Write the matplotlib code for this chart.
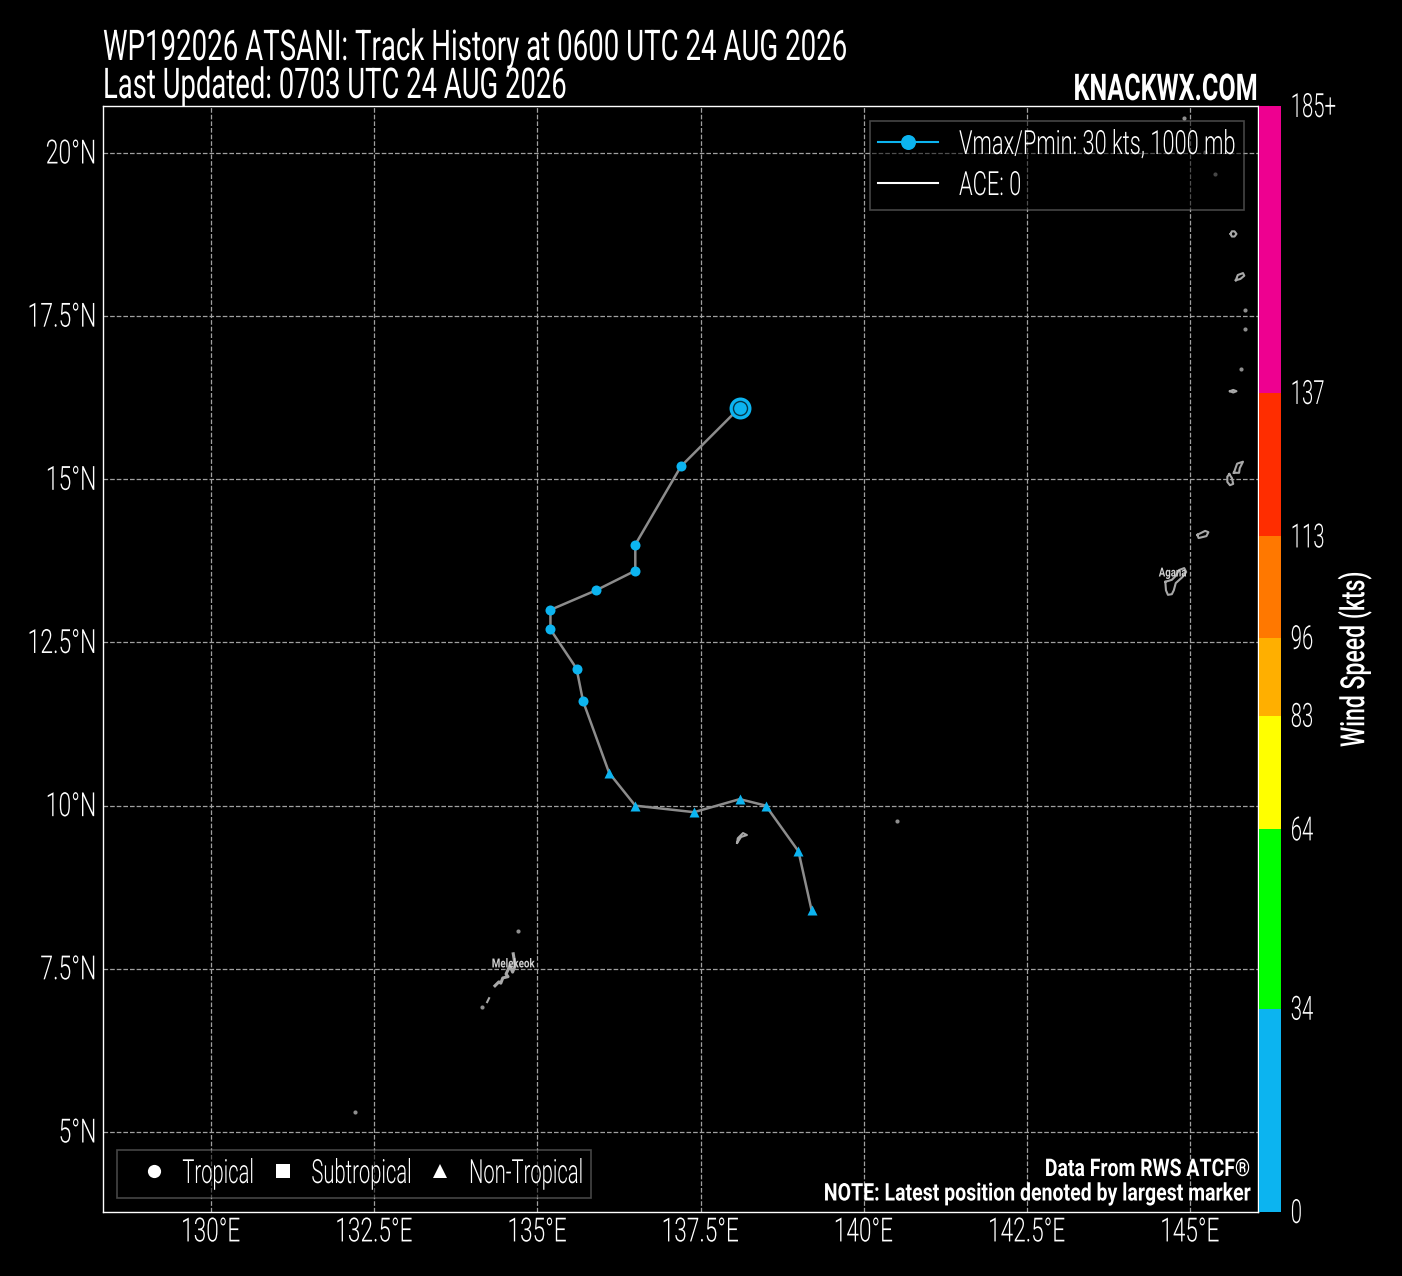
import matplotlib
matplotlib.use('Agg')
import matplotlib.pyplot as plt
from matplotlib.colors import ListedColormap, BoundaryNorm
from matplotlib.colorbar import ColorbarBase
from matplotlib.lines import Line2D
from matplotlib.patheffects import AbstractPathEffect
from matplotlib.transforms import Affine2D, Bbox

plt.rcParams['font.family'] = ['Roboto', 'DejaVu Sans']
plt.rcParams['font.weight'] = 300

# ---- data ----
track_lon = [139.2, 139.0, 138.5, 138.1, 137.4, 136.5, 136.1, 135.7, 135.6, 135.2, 135.2, 135.9, 136.5, 136.5, 137.2, 138.1]
track_lat = [8.4, 9.3, 10.0, 10.1, 9.9, 10.0, 10.5, 11.6, 12.1, 12.7, 13.0, 13.3, 13.6, 14.0, 15.2, 16.1]
track_kind = ['^', '^', '^', '^', '^', '^', '^', 'o', 'o', 'o', 'o', 'o', 'o', 'o', 'o', 'o']

lon_ticks = [130, 132.5, 135, 137.5, 140, 142.5, 145]
lon_labels = ['130°E', '132.5°E', '135°E', '137.5°E', '140°E', '142.5°E', '145°E']
lat_ticks = [5, 7.5, 10, 12.5, 15, 17.5, 20]
lat_labels = ['5°N', '7.5°N', '10°N', '12.5°N', '15°N', '17.5°N', '20°N']

wind_bounds = [0, 34, 64, 83, 96, 113, 137, 185]
wind_labels = ['0', '34', '64', '83', '96', '113', '137', '185+']
wind_colors = ['#0CB4F0', '#00FF00', '#FFFF00', '#FFAF00', '#FF7800', '#FF2D00', '#EE0090']

guam_lon = [144.62, 144.72, 144.78, 144.83, 144.91, 144.94, 144.88, 144.78, 144.75, 144.72, 144.66, 144.63, 144.62]
guam_lat = [13.43, 13.46, 13.52, 13.61, 13.64, 13.58, 13.50, 13.41, 13.30, 13.24, 13.23, 13.30, 13.43]
rota_lon = [145.11, 145.23, 145.28, 145.25, 145.13, 145.11]
rota_lat = [14.15, 14.21, 14.19, 14.13, 14.10, 14.15]
tinian_lon = [145.60, 145.64, 145.66, 145.61, 145.57, 145.57, 145.60]
tinian_lat = [15.08, 15.02, 14.93, 14.91, 14.96, 15.04, 15.08]
saipan_lon = [145.67, 145.72, 145.81, 145.76, 145.75, 145.67]
saipan_lat = [15.10, 15.24, 15.27, 15.17, 15.10, 15.10]
anatahan_lon = [145.70, 145.73, 145.81, 145.83, 145.77, 145.70]
anatahan_lat = [18.05, 18.13, 18.16, 18.12, 18.07, 18.05]
agrihan_lon = [145.62, 145.64, 145.68, 145.71, 145.68, 145.64, 145.62]
agrihan_lat = [18.76, 18.80, 18.80, 18.76, 18.72, 18.72, 18.76]
sarigan_lon = [145.61, 145.66, 145.71, 145.66, 145.61]
sarigan_lat = [16.35, 16.37, 16.35, 16.33, 16.35]
palau_lon = [134.63, 134.66, 134.62, 134.58, 134.52, 134.55, 134.47, 134.44, 134.41, 134.35]
palau_lat = [7.73, 7.55, 7.45, 7.55, 7.42, 7.38, 7.36, 7.28, 7.30, 7.24]
peleliu_lon = [134.26, 134.23]
peleliu_lat = [7.05, 6.99]
yap_lon = [138.06, 138.07, 138.15, 138.21, 138.12, 138.06]
yap_lat = [9.43, 9.50, 9.58, 9.55, 9.52, 9.43]
dot_lon = [144.91, 145.23, 145.38, 145.84, 145.84, 145.78, 140.51, 132.21, 134.70, 134.15]
dot_lat = [20.54, 20.02, 19.68, 17.59, 17.30, 16.69, 9.77, 5.31, 8.08, 6.92]

W, H = 1402, 1276
def frac(x0, y0, x1, y1):
    return [x0 / W, 1 - y1 / H, (x1 - x0) / W, (y1 - y0) / H]
def px(x, y):
    return (x / W, 1 - y / H)


class Narrow(AbstractPathEffect):
    """Draws a text's glyphs narrower, as the reference's condensed typeface is."""
    def __init__(self, s, align, dy=0):
        super().__init__()
        self.s, self.align, self.dy = s, align, dy
    def draw_path(self, renderer, gc, tpath, affine, rgbFace=None):
        w = tpath.get_extents().x1
        t = Affine2D().scale(self.s, 1).translate(self.align * (1 - self.s) * w, 0)
        renderer.draw_path(gc, tpath, t + affine + Affine2D().translate(0, self.dy), rgbFace)


def condense(t, s, align=0.0, vertical=False, dy=0):
    t.set_path_effects([Narrow(s, align, dy)])
    orig = t.get_window_extent
    def extent(renderer=None, dpi=None):
        b = orig(renderer, dpi)
        if vertical:
            return Bbox.from_bounds(b.x0, b.y0 + align * (1 - s) * b.height, b.width, b.height * s)
        return Bbox.from_bounds(b.x0 + align * (1 - s) * b.width, b.y0 + dy, b.width * s, b.height)
    t.get_window_extent = extent
    return t


def condense_legend(leg, s):
    for t in leg.get_texts():
        condense(t, s)
    for col in leg._legend_handle_box.get_children():
        for row in col.get_children():
            ta = row.get_children()[1]
            def bbox(renderer, o=ta.get_bbox):
                b = o(renderer)
                return Bbox.from_bounds(b.x0, b.y0, b.width * s, b.height)
            ta.get_bbox = bbox


fig = plt.figure(figsize=(W / 100, H / 100), dpi=100, facecolor='black')
ax = fig.add_axes(frac(103, 106, 1258, 1212), facecolor='black')
ax.set_xlim(128.345, 146.04)
ax.set_ylim(3.774, 20.72)

ax.grid(True, color='#A0A0A0', linestyle='--', linewidth=0.9, zorder=1)
ax.set_axisbelow(True)
ax.set_xticks(lon_ticks)
ax.set_xticklabels(lon_labels)
ax.set_yticks(lat_ticks)
ax.set_yticklabels(lat_labels)
ax.tick_params(axis='x', colors='white', labelsize=24, length=0, pad=3.2)
ax.tick_params(axis='y', colors='white', labelsize=24, length=0, pad=4)
for t in ax.get_xticklabels():
    condense(t, 0.68, 0.5)
for t in ax.get_yticklabels():
    condense(t, 0.69, 1.0, dy=2)
for s in ax.spines.values():
    s.set_color('white')
    s.set_linewidth(1)

LAND = '#A8A8A8'
for lo, la in [(guam_lon, guam_lat), (rota_lon, rota_lat), (tinian_lon, tinian_lat), (saipan_lon, saipan_lat),
               (anatahan_lon, anatahan_lat), (agrihan_lon, agrihan_lat), (sarigan_lon, sarigan_lat),
               (peleliu_lon, peleliu_lat), (yap_lon, yap_lat)]:
    ax.plot(lo, la, color=LAND, lw=1.5, zorder=2)
ax.plot(palau_lon, palau_lat, color=LAND, lw=2.2, zorder=2)
ax.scatter(dot_lon, dot_lat, s=9, color='#8E8E8E', linewidths=0, zorder=2)
condense(ax.text(134.63, 7.575, 'Melekeok', color='#D0D0D0', fontsize=9, fontweight='bold', ha='center', va='center', zorder=3), 0.78, 0.5)
condense(ax.text(144.73, 13.565, 'Agana', color='#D0D0D0', fontsize=9, fontweight='bold', ha='center', va='center', zorder=3), 0.77, 0.5)

# track
ax.plot(track_lon, track_lat, color='#8C8C8C', lw=1.8, zorder=3)
MC = wind_colors[0]
for lo, la, k in zip(track_lon, track_lat, track_kind):
    ax.scatter([lo], [la], marker=k, s=52, color=MC, linewidths=0, zorder=4)
ax.scatter([track_lon[-1]], [track_lat[-1]], marker='o', s=250, color=MC, linewidths=0, zorder=5)
ax.scatter([track_lon[-1]], [track_lat[-1]], marker='o', s=102, facecolor=MC, edgecolor='#06384A', linewidths=1.0, zorder=6)

# legends
h1 = [Line2D([], [], color=MC, lw=1.5, marker='o', ms=10.8, mew=0, label='Vmax/Pmin: 30 kts, 1000 mb'),
      Line2D([], [], color='white', lw=1.5, label='ACE: 0')]
leg1 = ax.legend(handles=h1, loc='upper right', bbox_to_anchor=px(1244, 121), bbox_transform=fig.transFigure,
                 fontsize=24, facecolor='black', edgecolor='#8A8A8A', framealpha=0.5, labelcolor='white',
                 fancybox=False, borderaxespad=0, borderpad=0.24, handlelength=1.78, handletextpad=0.64, labelspacing=0.27)
leg1.get_frame().set_linewidth(1.2)
leg1.set_zorder(7)
condense_legend(leg1, 0.655)
ax.add_artist(leg1)
h2 = [Line2D([], [], color='white', marker='o', ls='', ms=9.5, mew=0, label='Tropical'),
      Line2D([], [], color='white', marker='s', ls='', ms=9.5, mew=0, label='Subtropical'),
      Line2D([], [], color='white', marker='^', ls='', ms=9.5, mew=0, label='Non-Tropical')]
leg2 = ax.legend(handles=h2, loc='lower left', ncol=3, bbox_to_anchor=px(117, 1198), bbox_transform=fig.transFigure,
                 fontsize=24, facecolor='black', edgecolor='#8A8A8A', framealpha=0.5, labelcolor='white',
                 fancybox=False, borderaxespad=0, borderpad=0.24, handlelength=1.72, handletextpad=0.0, columnspacing=0.0)
leg2.get_frame().set_linewidth(1.2)
leg2.set_zorder(7)
condense_legend(leg2, 0.605)

# footer text
condense(fig.text(1250 / W, 1 - 1168 / H, 'Data From RWS ATCF®', color='white', fontsize=17.5, fontweight='bold', ha='right', va='center'), 0.80, 1.0, dy=-1.5)
condense(fig.text(1250 / W, 1 - 1193 / H, 'NOTE: Latest position denoted by largest marker', color='white', fontsize=17.5, fontweight='bold', ha='right', va='center'), 0.803, 1.0, dy=-1)

# titles
condense(fig.text(103 / W, 1 - 60 / H, 'WP192026 ATSANI: Track History at 0600 UTC 24 AUG 2026', color='white', fontsize=30.5, fontweight=400, ha='left', va='baseline'), 0.653)
condense(fig.text(103 / W, 1 - 98 / H, 'Last Updated: 0703 UTC 24 AUG 2026', color='white', fontsize=30.5, fontweight=400, ha='left', va='baseline'), 0.648)
condense(fig.text(1258 / W, 1 - 100 / H, 'KNACKWX.COM', color='white', fontsize=26.5, fontweight='bold', ha='right', va='baseline'), 0.683, 1.0)

# colorbar
cax = fig.add_axes(frac(1259, 106, 1281, 1212))
cmap = ListedColormap(wind_colors)
norm = BoundaryNorm(wind_bounds, cmap.N)
cb = ColorbarBase(cax, cmap=cmap, norm=norm, spacing='proportional', ticks=wind_bounds, orientation='vertical')
cb.ax.set_yticklabels(wind_labels)
cb.ax.tick_params(colors='white', labelsize=24, length=0, pad=7)
for t in cb.ax.get_yticklabels():
    condense(t, 0.61, dy=1.5)
cb.outline.set_visible(False)
cb.set_label('Wind Speed (kts)', color='white', fontsize=24, labelpad=1, fontweight=500)
condense(cb.ax.yaxis.label, 0.69, 0.5, vertical=True)

fig.savefig('out.png', dpi=100, facecolor='black')
